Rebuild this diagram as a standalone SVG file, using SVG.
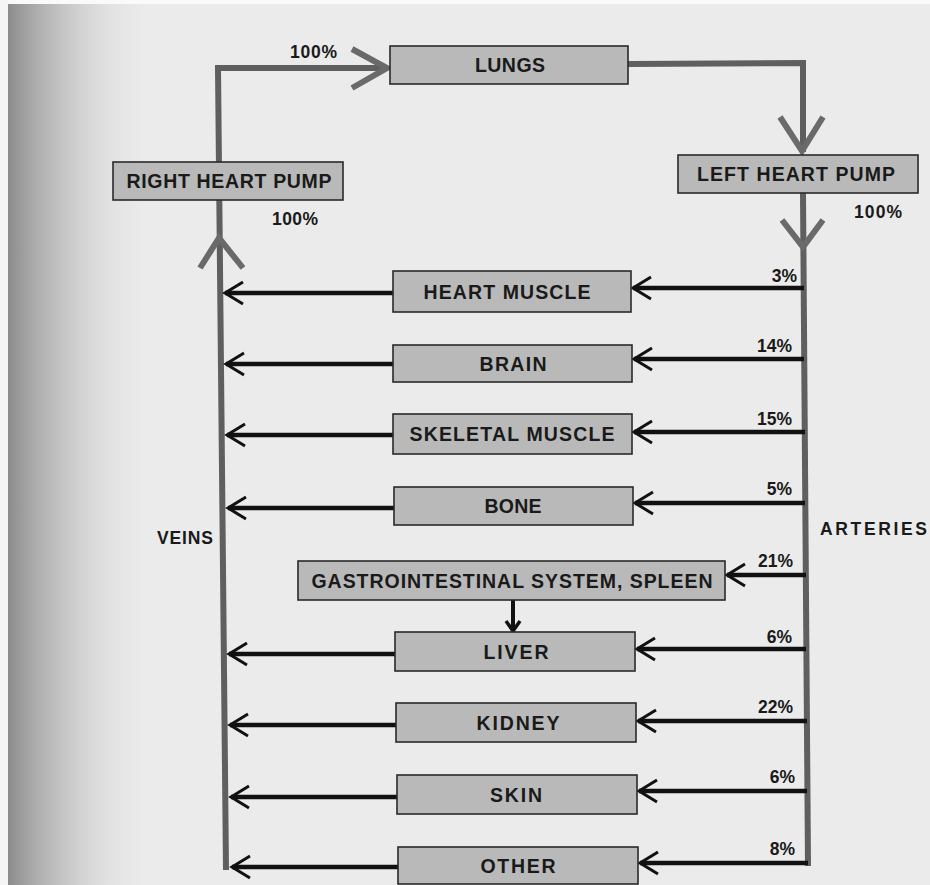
<svg xmlns="http://www.w3.org/2000/svg" width="930" height="885" viewBox="0 0 930 885">
<style>
.box rect{fill:#b9b9b9;stroke:#2a2a2a;stroke-width:1.6}
.box text,.lbl{font-family:"Liberation Sans",Arial,sans-serif;font-weight:bold;fill:#1a1a1a;text-anchor:middle}
.box text{font-size:19.5px}
.lbl{font-size:17.5px;text-anchor:end}
.lbl.s{text-anchor:start}
.vessel{fill:none;stroke:#5f5f5f;stroke-width:6;stroke-linejoin:miter}
.varrow{fill:none;stroke:#6a6a6a;stroke-width:6;stroke-linecap:butt}
.flow{stroke:#111;stroke-width:4.5;fill:none;marker-end:url(#ah)}
.flow2{stroke:#111;stroke-width:4;fill:none;marker-end:url(#ahs)}
</style>
<defs>
<linearGradient id="edge" x1="0" y1="0" x2="1" y2="0">
<stop offset="0" stop-color="#8c8c8c"/>
<stop offset="1" stop-color="#ececec" stop-opacity="0"/>
</linearGradient>
<marker id="ah" viewBox="-20 -13 23 26" refX="0" refY="0" markerWidth="23" markerHeight="26" markerUnits="userSpaceOnUse" orient="auto">
<path d="M-18,-11 L0,0 L-18,11" fill="none" stroke="#111" stroke-width="3"/>
</marker>
<marker id="ahs" viewBox="-12 -10 14 20" refX="0" refY="0" markerWidth="14" markerHeight="20" markerUnits="userSpaceOnUse" orient="auto">
<path d="M-10,-7 L0,0 L-10,7" fill="none" stroke="#111" stroke-width="3.5"/>
</marker>
</defs>
<rect x="0" y="0" width="930" height="885" fill="#ebebeb"/>
<rect x="8" y="0" width="150" height="885" fill="url(#edge)"/>
<rect x="0" y="0" width="930" height="4" fill="#fafafa"/>
<rect x="0" y="0" width="8" height="885" fill="#f5f5f5"/>

<g id="connectors">
<polyline class="vessel" points="226,870 218,68 386,68"/>
<polyline class="varrow" points="352,49 387,68 352,88"/>
<polyline class="vessel" points="628,64 803,63 803,152"/>
<polyline class="varrow" points="780,117 802,151 823,117"/>
<line class="vessel" x1="803" y1="193" x2="808" y2="866"/>
<polyline class="varrow" points="782,220 803,247 823,220"/>
<polyline class="varrow" points="200,268 219,238 243,268"/>

<line class="flow" x1="804" y1="288" x2="633" y2="288"/>
<line class="flow" x1="804" y1="359" x2="634" y2="359"/>
<line class="flow" x1="805" y1="432" x2="634" y2="432"/>
<line class="flow" x1="805" y1="503" x2="635" y2="503"/>
<line class="flow" x1="806" y1="575" x2="727" y2="575"/>
<line class="flow" x1="806" y1="649" x2="637" y2="649"/>
<line class="flow" x1="807" y1="721" x2="638" y2="721"/>
<line class="flow" x1="807" y1="791" x2="639" y2="791"/>
<line class="flow" x1="808" y1="863" x2="640" y2="863"/>

<line class="flow" x1="393" y1="293" x2="225" y2="293"/>
<line class="flow" x1="393" y1="364" x2="226" y2="364"/>
<line class="flow" x1="393" y1="435" x2="227" y2="435"/>
<line class="flow" x1="394" y1="508" x2="228" y2="508"/>
<line class="flow" x1="395" y1="654" x2="229" y2="654"/>
<line class="flow" x1="396" y1="725" x2="230" y2="725"/>
<line class="flow" x1="397" y1="797" x2="231" y2="797"/>
<line class="flow" x1="398" y1="867" x2="232" y2="867"/>

<line class="flow2" x1="513" y1="600" x2="513" y2="631"/>
</g>

<g id="lungs" class="box"><rect x="390" y="46" width="238" height="38"/><text x="510" y="72" textLength="70">LUNGS</text></g>
<g id="right-heart-pump" class="box"><rect x="113" y="162" width="230" height="38"/><text x="229" y="188" textLength="205">RIGHT HEART PUMP</text></g>
<g id="left-heart-pump" class="box"><rect x="678" y="155" width="240" height="38"/><text x="796" y="181" textLength="198">LEFT HEART PUMP</text></g>
<g id="heart-muscle" class="box"><rect x="393" y="271" width="238" height="41"/><text x="507" y="298.5" textLength="167">HEART MUSCLE</text></g>
<g id="brain" class="box"><rect x="393" y="345" width="239" height="37"/><text x="513" y="370.5" textLength="67">BRAIN</text></g>
<g id="skeletal-muscle" class="box"><rect x="393" y="414" width="239" height="40"/><text x="512" y="441" textLength="205">SKELETAL MUSCLE</text></g>
<g id="bone" class="box"><rect x="394" y="487" width="239" height="38"/><text x="513" y="513" textLength="57">BONE</text></g>
<g id="gi-spleen" class="box"><rect x="298" y="561" width="427" height="39"/><text x="512" y="587.5" textLength="401">GASTROINTESTINAL SYSTEM, SPLEEN</text></g>
<g id="liver" class="box"><rect x="395" y="632" width="240" height="39"/><text x="516" y="658.5" textLength="65">LIVER</text></g>
<g id="kidney" class="box"><rect x="396" y="703" width="240" height="39"/><text x="518" y="729.5" textLength="83">KIDNEY</text></g>
<g id="skin" class="box"><rect x="397" y="775" width="240" height="39"/><text x="516" y="801.5" textLength="52">SKIN</text></g>
<g id="other" class="box"><rect x="398" y="847" width="240" height="37"/><text x="518" y="872.5" textLength="75">OTHER</text></g>

<g id="labels">
<text class="lbl" x="337" y="58" textLength="47">100%</text>
<text class="lbl" x="318" y="225" textLength="46">100%</text>
<text class="lbl" x="902" y="218" textLength="48">100%</text>
<text class="lbl" x="797" y="282">3%</text>
<text class="lbl" x="792" y="352">14%</text>
<text class="lbl" x="792" y="425">15%</text>
<text class="lbl" x="792" y="495">5%</text>
<text class="lbl" x="793" y="567">21%</text>
<text class="lbl" x="792" y="643">6%</text>
<text class="lbl" x="793" y="713">22%</text>
<text class="lbl" x="795" y="783">6%</text>
<text class="lbl" x="795" y="855">8%</text>
<text class="lbl" x="213" y="544" textLength="56">VEINS</text>
<text class="lbl s" x="820" y="535" textLength="107">ARTERIES</text>
</g>
</svg>
